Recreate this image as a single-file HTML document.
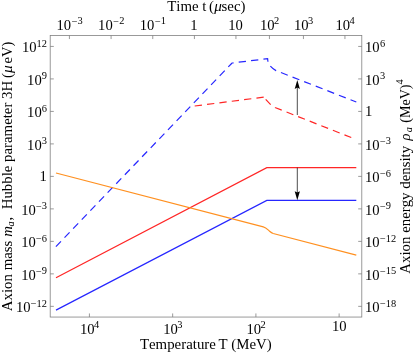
<!DOCTYPE html>
<html><head><meta charset="utf-8"><title>Axion plot</title>
<style>
html,body{margin:0;padding:0;background:#fff;}
svg{display:block;will-change:transform;font-kerning:none;font-family:"Liberation Serif",serif;}
</style></head>
<body>
<svg width="415" height="355" viewBox="0 0 415 355">
<rect width="415" height="355" fill="#fff"/>
<rect x="50.2" y="35.45" width="311.60" height="281.60" fill="none" stroke="#808080" stroke-width="0.8"/>
<path d="M50.2 46.43h3.6M50.2 78.92h3.6M50.2 111.41h3.6M50.2 143.90h3.6M50.2 176.39h3.6M50.2 208.88h3.6M50.2 241.37h3.6M50.2 273.86h3.6M50.2 306.35h3.6M361.8 46.43h-3.6M361.8 78.92h-3.6M361.8 111.41h-3.6M361.8 143.90h-3.6M361.8 176.39h-3.6M361.8 208.88h-3.6M361.8 241.37h-3.6M361.8 273.86h-3.6M361.8 306.35h-3.6M89.42 317.05v-3.6M172.66 317.05v-3.6M255.90 317.05v-3.6M339.13 317.05v-3.6M69.42 35.45v3.6M111.09 35.45v3.6M152.75 35.45v3.6M194.42 35.45v3.6M235.95 35.45v3.6M269.43 35.45v3.6M303.43 35.45v3.6M344.95 35.45v3.6" stroke="#808080" stroke-width="0.8" fill="none"/>
<g fill="#000"><text x="21.90" y="52.13" font-size="14.6">10</text><text x="36.60" y="46.63" font-size="10.4">12</text><text x="27.10" y="84.62" font-size="14.6">10</text><text x="41.80" y="79.12" font-size="10.4">9</text><text x="27.10" y="117.11" font-size="14.6">10</text><text x="41.80" y="111.61" font-size="10.4">6</text><text x="27.10" y="149.60" font-size="14.6">10</text><text x="41.80" y="144.10" font-size="10.4">3</text><text x="39.50" y="180.69" font-size="14.6">1</text><text x="21.23" y="214.58" font-size="14.6">10</text><text x="35.93" y="209.68" font-size="10.4">−</text><text x="41.80" y="209.08" font-size="10.4">3</text><text x="21.23" y="247.07" font-size="14.6">10</text><text x="35.93" y="242.17" font-size="10.4">−</text><text x="41.80" y="241.57" font-size="10.4">6</text><text x="21.23" y="279.56" font-size="14.6">10</text><text x="35.93" y="274.66" font-size="10.4">−</text><text x="41.80" y="274.06" font-size="10.4">9</text><text x="16.03" y="312.05" font-size="14.6">10</text><text x="30.73" y="307.15" font-size="10.4">−</text><text x="36.60" y="306.55" font-size="10.4">12</text><text x="364.90" y="52.13" font-size="14.6">10</text><text x="379.90" y="46.63" font-size="10.4">6</text><text x="364.90" y="84.62" font-size="14.6">10</text><text x="379.90" y="79.12" font-size="10.4">3</text><text x="364.90" y="115.71" font-size="14.6">1</text><text x="364.90" y="149.60" font-size="14.6">10</text><text x="379.90" y="144.70" font-size="10.4">−</text><text x="385.77" y="144.10" font-size="10.4">3</text><text x="364.90" y="182.09" font-size="14.6">10</text><text x="379.90" y="177.19" font-size="10.4">−</text><text x="385.77" y="176.59" font-size="10.4">6</text><text x="364.90" y="214.58" font-size="14.6">10</text><text x="379.90" y="209.68" font-size="10.4">−</text><text x="385.77" y="209.08" font-size="10.4">9</text><text x="364.90" y="247.07" font-size="14.6">10</text><text x="379.90" y="242.17" font-size="10.4">−</text><text x="385.77" y="241.57" font-size="10.4">12</text><text x="364.90" y="279.56" font-size="14.6">10</text><text x="379.90" y="274.66" font-size="10.4">−</text><text x="385.77" y="274.06" font-size="10.4">15</text><text x="364.90" y="312.05" font-size="14.6">10</text><text x="379.90" y="307.15" font-size="10.4">−</text><text x="385.77" y="306.55" font-size="10.4">18</text><text x="79.97" y="333.80" font-size="14.6">10</text><text x="93.97" y="328.00" font-size="10.4">4</text><text x="163.21" y="333.80" font-size="14.6">10</text><text x="177.21" y="328.00" font-size="10.4">3</text><text x="246.45" y="333.80" font-size="14.6">10</text><text x="260.45" y="328.00" font-size="10.4">2</text><text x="331.98" y="330.70" font-size="14.6">10</text><text x="56.44" y="29.70" font-size="14.6">10</text><text x="71.64" y="24.50" font-size="10.4">−</text><text x="77.50" y="23.90" font-size="10.4">3</text><text x="98.11" y="29.70" font-size="14.6">10</text><text x="113.31" y="24.50" font-size="10.4">−</text><text x="119.17" y="23.90" font-size="10.4">2</text><text x="139.77" y="29.70" font-size="14.6">10</text><text x="154.97" y="24.50" font-size="10.4">−</text><text x="160.83" y="23.90" font-size="10.4">1</text><text x="190.32" y="29.70" font-size="14.6">1</text><text x="228.20" y="29.70" font-size="14.6">10</text><text x="259.98" y="29.70" font-size="14.6">10</text><text x="273.98" y="23.90" font-size="10.4">2</text><text x="293.98" y="29.70" font-size="14.6">10</text><text x="307.98" y="23.90" font-size="10.4">3</text><text x="335.50" y="29.70" font-size="14.6">10</text><text x="349.50" y="23.90" font-size="10.4">4</text></g>
<text x="139.9" y="349.3" font-size="14.85" letter-spacing="0.02">Temperature</text>
<text x="218.5" y="349.3" font-size="14.85">T (MeV)</text>
<text x="167.3" y="11.3" font-size="14.85">Time t<tspan dx="-1.3"> (</tspan><tspan font-style="italic" font-size="15.2" dx="0.5">μ</tspan><tspan dx="-0.35">sec)</tspan></text>
<g transform="translate(12.0 0) rotate(-90)" font-size="14.6"><text x="-311.2" y="0" font-size="14.87">Axion mass <tspan font-style="italic" dx="0.1">m</tspan><tspan font-style="italic" font-size="10.4" dy="2.0" dx="-0.5">a</tspan><tspan dy="-2.0" dx="0.8">,</tspan></text><text x="-209.35" y="0" font-size="14.85">Hubble parameter 3H<tspan dx="2.8">(</tspan></text><text x="-72.9" y="0" font-style="italic" font-size="15.5">μ</text><text x="-41.6" y="0" text-anchor="end">eV)</text></g>
<g transform="translate(409.8 0) rotate(-90)" font-size="14.6"><text x="-273.7" y="0" font-size="14.85">Axion energy density</text><text x="-140.4" y="0" font-style="italic">ρ</text><text x="-132.3" y="2.2" font-style="italic" font-size="10.4">a</text><text x="-122.7" y="0" font-size="14.05">(MeV)</text><text x="-84.6" y="-6.4" font-size="10.4">4</text></g>
<path d="M55.9 246.6 L232.1 63.0" stroke="#2626ff" stroke-width="1.2" stroke-dasharray="7.3 5.15" fill="none"/><path d="M232.1 63.0 L267.6 58.7 L268.0 62.3 C268.8 65 272 68.5 276 70.6 L356.3 102.0" stroke="#2626ff" stroke-width="1.2" stroke-dasharray="7.3 5.15" stroke-dashoffset="5.8" fill="none"/><path d="M194.7 106.0 L263.7 97.2" stroke="#ff2626" stroke-width="1.2" stroke-dasharray="7.3 5.15" fill="none"/><path d="M263.7 97.2 L271.0 105 Q272.5 106.3 275 107.5 L354.5 138.8" stroke="#ff2626" stroke-width="1.2" stroke-dasharray="7.3 5.15" stroke-dashoffset="9.55" fill="none"/><path d="M56.0 277.7 L266.8 167.7 L356.3 167.7" stroke="#ff2626" stroke-width="1.2" fill="none"/><path d="M56.0 310.1 L266.8 200.35 L356.3 200.35" stroke="#2626ff" stroke-width="1.2" fill="none"/><path d="M56.0 173.0 L263.3 226.8 C266.5 227.7 267.5 229.5 269.6 231.3 C271 232.5 272 233.1 273.2 233.5 L356.3 255.1" stroke="#ff9020" stroke-width="1.2" fill="none"/>
<path d="M297.3 115 V86" stroke="#000" stroke-width="0.7" fill="none"/><path d="M297.3 79.9 L294.7 89.0 L297.3 87.6 L299.9 89.0 Z" fill="#000"/><path d="M297.3 167.7 V194" stroke="#000" stroke-width="0.7" fill="none"/><path d="M297.3 200.3 L294.7 191.2 L297.3 192.6 L299.9 191.2 Z" fill="#000"/>
</svg>
</body></html>
